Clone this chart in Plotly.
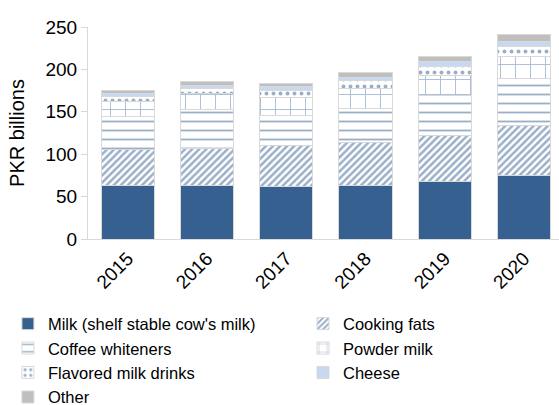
import plotly.graph_objects as go

years = ["2015", "2016", "2017", "2018", "2019", "2020"]

milk = [63.4, 62.6, 62.2, 63.0, 67.3, 74.3]
cooking_fats = [42.2, 43.9, 48.1, 51.2, 54.8, 59.5]
coffee_whiteners = [39.1, 45.7, 35.2, 39.9, 46.9, 55.5]
powder_milk = [17.6, 18.8, 21.5, 22.8, 24.3, 25.5]
flavored_drinks = [5.9, 6.6, 8.7, 9.7, 9.8, 12.1]
cheese = [2.8, 3.5, 3.9, 3.9, 5.8, 5.5]
other = [4.7, 4.7, 4.3, 5.9, 6.2, 8.2]

BLUE = "#36608f"
EDGE = "#d9d9d9"

# (name, values, marker, legend column)
series = [
    ("Milk (shelf stable cow's milk)", milk, dict(color=BLUE), "legend"),
    ("Cooking fats", cooking_fats,
     dict(color="white", pattern=dict(shape="/", fgcolor=BLUE, bgcolor="white",
                                      size=5, solidity=0.5)), "legend2"),
    ("Coffee whiteners", coffee_whiteners,
     dict(color="white", pattern=dict(shape="-", fgcolor=BLUE, bgcolor="white",
                                      size=9, solidity=0.2)), "legend"),
    ("Powder milk", powder_milk,
     dict(color="white", pattern=dict(shape="+", fgcolor="#4f78ab", bgcolor="white",
                                      size=15, solidity=0.12)), "legend2"),
    ("Flavored milk drinks", flavored_drinks,
     dict(color="white", pattern=dict(shape=".", fgcolor=BLUE, bgcolor="white",
                                      size=7, solidity=0.25)), "legend"),
    ("Cheese", cheese, dict(color="#c6d9f0"), "legend2"),
    ("Other", other, dict(color="#bfbfbf"), "legend"),
]

fig = go.Figure()
for name, vals, mk, lg in series:
    mk = dict(mk, line=dict(color=EDGE, width=1))
    fig.add_trace(go.Bar(name=name, x=years, y=vals, marker=mk, legend=lg))

font = "Liberation Sans, Arial, sans-serif"
legend_common = dict(
    orientation="v",
    yanchor="top",
    font=dict(size=16.5),
    traceorder="normal",
    bgcolor="rgba(0,0,0,0)",
    borderwidth=0,
)

fig.update_layout(
    barmode="stack",
    bargap=0.33,
    width=559,
    height=405,
    margin=dict(l=88, r=0, t=27, b=166, autoexpand=False),
    paper_bgcolor="white",
    plot_bgcolor="white",
    font=dict(family=font, color="#000000", size=19),
    showlegend=True,
    legend=dict(legend_common, x=-0.17, xanchor="left", y=-0.318),
    legend2=dict(legend_common, x=0.4565, xanchor="left", y=-0.318),
    xaxis=dict(
        type="category",
        range=[-0.5, 5.44],
        tickangle=-45,
        showline=True, linecolor=EDGE, linewidth=1,
        ticks="", showgrid=False,
        tickfont=dict(size=19),
    ),
    yaxis=dict(
        range=[0, 250],
        tickvals=[0, 50, 100, 150, 200, 250],
        showline=True, linecolor=EDGE, linewidth=1,
        ticks="outside", ticklen=6, tickcolor=EDGE,
        showgrid=False, zeroline=False,
        tickfont=dict(size=19),
        title=dict(text="PKR billions", font=dict(size=20), standoff=15),
    ),
)

fig.write_html("out.html")
